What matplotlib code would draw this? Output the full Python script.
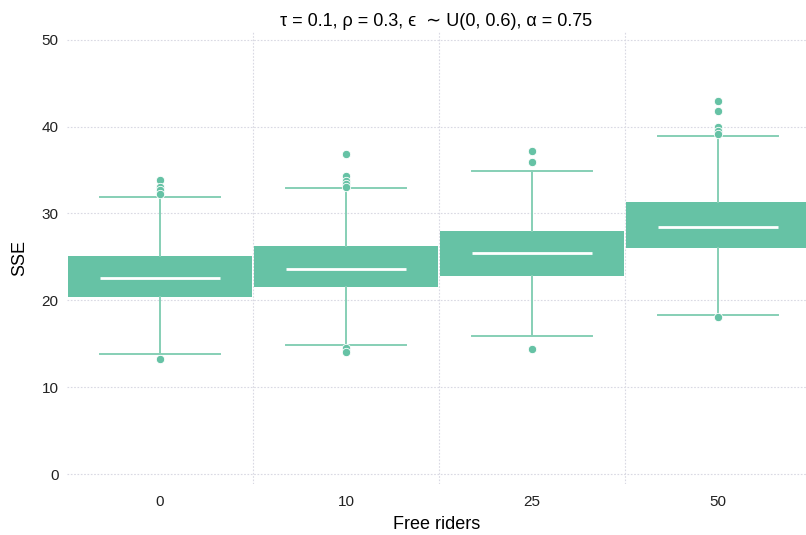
import matplotlib
matplotlib.use("Agg")
import matplotlib.pyplot as plt

plt.rcParams['font.family'] = ['Liberation Sans', 'DejaVu Sans']

# data
categories = ['0', '10', '25', '50']
q1 = [20.4, 21.5, 22.8, 26.0]
median = [22.6, 23.65, 25.4, 28.5]
q3 = [25.1, 26.2, 27.95, 31.3]
whis_lo = [13.8, 14.8, 15.9, 18.3]
whis_hi = [31.9, 32.9, 34.9, 38.9]
fliers = [
    [33.9, 33.1, 32.7, 32.3, 13.2],
    [36.9, 34.3, 33.7, 33.4, 33.1, 14.5, 14.0],
    [37.2, 35.9, 14.4],
    [42.9, 41.8, 40.0, 39.5, 39.1, 18.1],
]

green = '#66c2a5'
whisk = '#86cfb6'
grid_c = '#d9d9e3'

stats = []
for i in range(len(categories)):
    stats.append(dict(q1=q1[i], med=median[i], q3=q3[i],
                      whislo=whis_lo[i], whishi=whis_hi[i],
                      fliers=fliers[i], label=categories[i]))

fig = plt.figure(figsize=(8.06, 5.35), dpi=100)
ax = fig.add_axes([67 / 806, 51 / 535, 1 - 67 / 806, 452 / 535])

pos = list(range(len(categories)))
ax.bxp(stats, positions=pos, widths=0.99, capwidths=0.65, patch_artist=True,
       boxprops=dict(facecolor=green, edgecolor='none', linewidth=0),
       whiskerprops=dict(color=whisk, linewidth=1.4),
       capprops=dict(color=whisk, linewidth=1.4),
       medianprops=dict(visible=False),
       flierprops=dict(marker='o', markersize=6, markerfacecolor=green,
                       markeredgecolor='white', markeredgewidth=0.6),
       zorder=3)
ax.hlines(median, [p - 0.325 for p in pos], [p + 0.325 for p in pos],
          colors='white', linewidth=2, zorder=4)

ax.set_xlim(-0.5, 3.473)
ax.set_ylim(-1.15, 50.9)
ax.set_yticks([0, 10, 20, 30, 40, 50])
ax.set_xticks(pos)
ax.set_xticklabels(categories)

# grid: horizontal at ticks, vertical between categories
for y in [0, 10, 20, 30, 40, 50]:
    ax.axhline(y, color=grid_c, linestyle=(0, (1.5, 1.5)), linewidth=0.8, zorder=0)
for x in [0.5, 1.5, 2.5]:
    ax.axvline(x, color=grid_c, linestyle=(0, (1.5, 1.5)), linewidth=0.8, zorder=0)

for s in ax.spines.values():
    s.set_visible(False)
ax.tick_params(length=0, labelsize=11, colors='#222222', pad=8)
ax.tick_params(axis='y', pad=6)

ax.set_title('τ = 0.1, ρ = 0.3, ϵ  ∼ U(0, 0.6), α = 0.75', fontsize=13, pad=4)
ax.set_ylabel('SSE', fontsize=13, labelpad=10)
ax.set_xlabel('Free riders', fontsize=13, labelpad=5)

fig.savefig('out.png', dpi=100)
